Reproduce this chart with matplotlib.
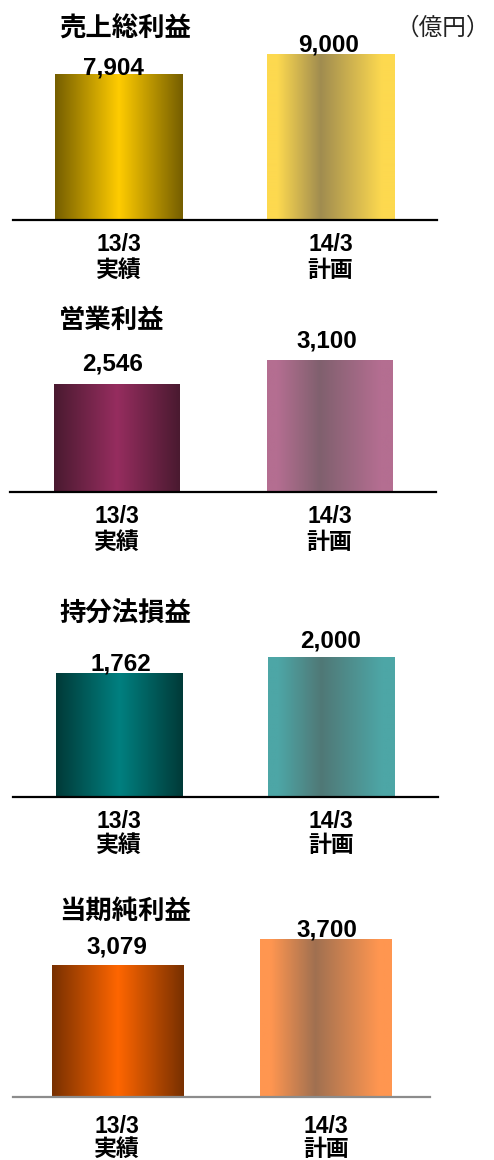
import numpy as np
import matplotlib.pyplot as plt
from matplotlib.colors import to_rgb

# データ (億円)
titles = ["売上総利益", "営業利益", "持分法損益", "当期純利益"]
periods = ["13/3", "14/3"]
kinds = ["実績", "計画"]
actual = [7904, 2546, 1762, 3079]
plan = [9000, 3100, 2000, 3700]
unit_label = "（億円）"

# 色 (端, 中央)  実績は中央が明るい / 計画は中央がくすむ
actual_colors = [("#755e00", "#ffcc00"), ("#4a1a30", "#962d5f"),
                 ("#003a38", "#008080"), ("#783000", "#ff6600")]
plan_colors = [("#fdd94f", "#a08c50"), ("#b46e91", "#80606e"),
               ("#4da6a6", "#507876"), ("#ff9650", "#a07050")]

W, H = 494, 1160
fig = plt.figure(figsize=(W / 100, H / 100), dpi=100)


def fy(py):
    return 1 - py / H


# 配置 (ピクセル)
axis_y = [220, 492, 797, 1097]
ax_left = [12.5, 10, 12.5, 13]
ax_width = [424, 426, 425, 417]
bar_w = [0.6, 0.59, 0.595, 0.63]
px_per_unit = [0.01840, 0.0424, 0.0699, 0.0426]
title_y = [27, 318, 612, 909]
val_off = [[(-5, 9), (-2, 12)], [(-4, 22), (-3, 22)],
           [(2, 12), (-1, 18)], [(0, 21), (1, 12)]]
cat_off = [(23, 48), (23, 48), (23, 46), (28, 50)]
axis_color = ["black", "black", "black", "#8c8c8c"]
PT = 0.72  # px -> pt
AX_H = 180

num_font = ["Liberation Sans", "Noto Sans CJK JP"]


def gradient(edge, center, plan_style):
    t = np.linspace(0, 1, 256)
    if plan_style:
        w = np.interp(t, [0, 0.08, 0.42, 0.9, 1], [0, 0, 1, 0, 0])
    else:
        w = np.interp(t, [0, 0.5, 1], [0, 1, 0])
    e = np.array(to_rgb(edge))
    c = np.array(to_rgb(center))
    img = e[None, :] * (1 - w[:, None]) + c[None, :] * w[:, None]
    return img[None, :, :]


for i in range(4):
    ax = fig.add_axes([ax_left[i] / W, fy(axis_y[i]), ax_width[i] / W, AX_H / H])
    vals = [actual[i], plan[i]]
    cols = [actual_colors[i], plan_colors[i]]
    bars = ax.bar([0, 1], vals, width=bar_w[i], color="none")
    for j, b in enumerate(bars):
        img = gradient(cols[j][0], cols[j][1], j == 1)
        ax.imshow(img, extent=(b.get_x(), b.get_x() + b.get_width(), 0, b.get_height()),
                  aspect="auto", interpolation="bilinear", zorder=2)
        dx, dy = val_off[i][j]
        ax.annotate(f"{vals[j]:,}", (j, vals[j]), xytext=(dx * PT, (dy - 8.7) * PT),
                    textcoords="offset points", ha="center", va="baseline",
                    fontsize=17.5, fontweight="bold", family=num_font)
        c0, c1 = cat_off[i]
        ax.annotate(periods[j], (j, 0), xycoords=("data", "axes fraction"),
                    xytext=(0, -(c0 + 8.2) * PT), textcoords="offset points",
                    ha="center", va="baseline", fontsize=16.5, fontweight="bold",
                    family=num_font)
        ax.annotate(kinds[j], (j, 0), xycoords=("data", "axes fraction"),
                    xytext=(0, -(c1 + 8.7) * PT), textcoords="offset points",
                    ha="center", va="baseline", fontsize=16.5, fontweight="bold",
                    family=num_font)
    ax.set_xlim(-0.5, 1.5)
    ax.set_ylim(0, AX_H / px_per_unit[i])
    for s in ["top", "left", "right"]:
        ax.spines[s].set_visible(False)
    ax.spines["bottom"].set_color(axis_color[i])
    ax.spines["bottom"].set_linewidth(1.6)
    ax.set_xticks([])
    ax.set_yticks([])
    ax.patch.set_visible(False)

    fig.text(59 / W, fy(title_y[i] + 10), titles[i], ha="left", va="baseline",
             fontsize=19, fontweight="bold", family="Noto Sans CJK JP")

fig.text(396 / W, fy(26 + 9), unit_label, ha="left", va="baseline",
         fontsize=17, family="Noto Sans CJK JP", color="#222222")

fig.savefig("out.png", dpi=100)
